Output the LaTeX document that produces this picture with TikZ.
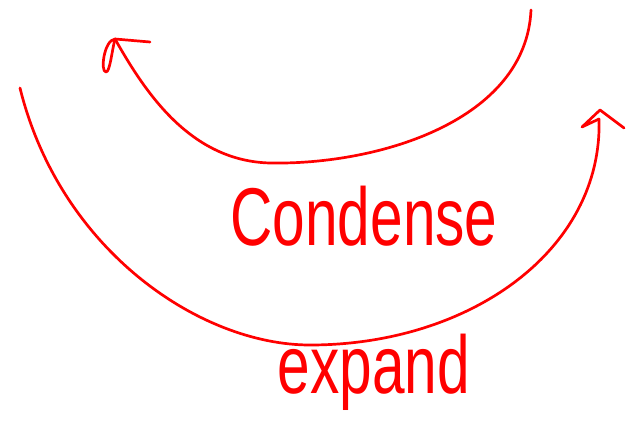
\documentclass[tikz,border=0pt]{standalone}
\usepackage{fontspec}
\setmainfont{Liberation Sans}
\usetikzlibrary{positioning}

\definecolor{penred}{RGB}{255,0,0}
\tikzset{
  pen/.style={draw=penred, line width=2.3pt, line cap=round, line join=round},
  word/.style={text=penred, inner sep=0pt, font=\fontsize{50}{60}\selectfont}
}

\begin{document}
\begin{tikzpicture}[x=0.03cm, y=-0.03cm]
  % canvas, pixel coordinates
  \useasboundingbox (0,0) rectangle (627,421);
  % upper arc (condense)
  \coordinate (upstart) at (531,10);
  \coordinate (upmid) at (270,163);
  \coordinate (uptip) at (115,39);
  \draw[pen] (upstart) .. controls (526,120) and (380,165) .. (upmid)
    .. controls (190,161) and (145,92) .. (uptip);
  \draw[pen] (uptip) -- (150,42);
  \draw[pen] (uptip) .. controls (104,40) and (100,72) .. (106,72)
    .. controls (110,72) and (112,50) .. (uptip);
  % lower arc (expand)
  \coordinate (lowstart) at (20,88);
  \coordinate (lowmid) at (310,345);
  \coordinate (lowtip) at (600,110);
  \draw[pen] (lowstart) .. controls (60,250) and (200,345) .. (lowmid)
    .. controls (470,345) and (603,250) .. (599,119);
  \draw[pen] (599,119) -- (582,127) -- (lowtip) -- (624,128);
  % labels
  \node[word] (condense) at (364,216) {\scalebox{1}[1.4]{Condense}};
  \node[word] (expand) at (374,372) {\scalebox{1}[1.4]{expand}};
\end{tikzpicture}
\end{document}
